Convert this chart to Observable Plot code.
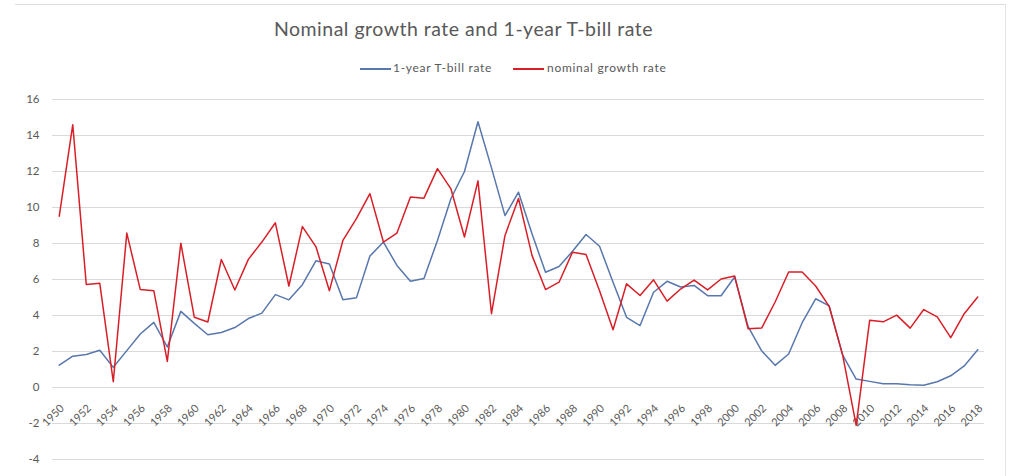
<!DOCTYPE html>
<html>
<head>
<meta charset="utf-8">
<script src="https://cdn.jsdelivr.net/npm/d3@7"></script>
<script src="https://cdn.jsdelivr.net/npm/@observablehq/plot@0.6"></script>
<style>
  html, body { margin: 0; padding: 0; background: #fff; }
  #page { position: relative; width: 1009px; height: 476px; overflow: hidden; font-family: Lato, "Open Sans", sans-serif; color: #595959; }
  #box { position: absolute; left: 15px; top: 4px; width: 990px; height: 500px; border-top: 1px solid #dedede; border-right: 1px solid #e4e4e4; pointer-events: none; }
  #header { position: relative; height: 85px; }
  #title { position: absolute; left: 0; width: 927px; top: 17px; text-align: center; font-size: 19.5px; letter-spacing: 0.5px; line-height: 1.2; white-space: nowrap; }
  .sw { position: absolute; top: 68px; height: 1.6px; width: 31px; }
  .lt { position: absolute; top: 61px; font-size: 12px; letter-spacing: 0.7px; line-height: 1.2; white-space: nowrap; }
  #chart { position: relative; }
</style>
</head>
<body>
<div id="page">
  <div id="box"></div>
  <div id="header">
    <div id="title">Nominal growth rate and 1-year T-bill rate</div>
    <div class="sw" style="left:360px;background:#5877ad"></div>
    <div class="lt" style="left:393px">1-year T-bill rate</div>
    <div class="sw" style="left:513px;background:#d81f28"></div>
    <div class="lt" style="left:547px">nominal growth rate</div>
  </div>
  <div id="chart"></div>
</div>
<script>
// Years on the category axis
const years = [
  1950, 1951, 1952, 1953, 1954, 1955, 1956, 1957, 1958, 1959,
  1960, 1961, 1962, 1963, 1964, 1965, 1966, 1967, 1968, 1969,
  1970, 1971, 1972, 1973, 1974, 1975, 1976, 1977, 1978, 1979,
  1980, 1981, 1982, 1983, 1984, 1985, 1986, 1987, 1988, 1989,
  1990, 1991, 1992, 1993, 1994, 1995, 1996, 1997, 1998, 1999,
  2000, 2001, 2002, 2003, 2004, 2005, 2006, 2007, 2008, 2009,
  2010, 2011, 2012, 2013, 2014, 2015, 2016, 2017, 2018
];

// 1-year T-bill rate (%)
const tbillRate = [
  1.24, 1.74, 1.83, 2.07, 1.12, 2.05, 2.97, 3.62, 2.25, 4.23,
  3.56, 2.93, 3.06, 3.33, 3.83, 4.13, 5.16, 4.87, 5.71, 7.04,
  6.86, 4.88, 4.98, 7.30, 8.08, 6.78, 5.90, 6.05, 8.17, 10.50,
  12.00, 14.76, 12.20, 9.55, 10.85, 8.54, 6.40, 6.72, 7.57, 8.50,
  7.85, 5.85, 3.90, 3.44, 5.29, 5.90, 5.58, 5.67, 5.10, 5.10,
  6.14, 3.38, 2.04, 1.23, 1.86, 3.60, 4.93, 4.53, 1.80, 0.47,
  0.34, 0.21, 0.21, 0.15, 0.12, 0.32, 0.65, 1.20, 2.10
];

// Nominal growth rate (%)
const nominalGrowth = [
  9.52, 14.60, 5.72, 5.79, 0.32, 8.58, 5.44, 5.38, 1.45, 8.02,
  3.90, 3.64, 7.11, 5.42, 7.12, 8.08, 9.15, 5.64, 8.94, 7.83,
  5.38, 8.17, 9.38, 10.77, 8.08, 8.58, 10.58, 10.52, 12.16, 11.03,
  8.36, 11.48, 4.10, 8.45, 10.50, 7.34, 5.44, 5.85, 7.52, 7.39,
  5.38, 3.21, 5.76, 5.11, 5.98, 4.80, 5.47, 5.97, 5.42, 6.03,
  6.20, 3.26, 3.30, 4.75, 6.42, 6.42, 5.64, 4.51, 1.80, -2.10,
  3.74, 3.65, 4.02, 3.30, 4.33, 3.92, 2.77, 4.10, 5.03
];

// Axis ticks
const yTicks = [-4, -2, 0, 2, 4, 6, 8, 10, 12, 14, 16];
const xTickYears = [
  1950, 1952, 1954, 1956, 1958, 1960, 1962, 1964, 1966, 1968,
  1970, 1972, 1974, 1976, 1978, 1980, 1982, 1984, 1986, 1988,
  1990, 1992, 1994, 1996, 1998, 2000, 2002, 2004, 2006, 2008,
  2010, 2012, 2014, 2016, 2018
];

const tbillRows = years.map((year, i) => ({year, value: tbillRate[i]}));
const growthRows = years.map((year, i) => ({year, value: nominalGrowth[i]}));

const labelColor = "#595959";

const chart = Plot.plot({
  width: 1009,
  height: 391,
  marginTop: 14,
  marginBottom: 17,
  marginLeft: 52,
  marginRight: 25,
  style: {fontFamily: "Lato, 'Open Sans', sans-serif", fontSize: "11px", color: labelColor, background: "transparent"},
  x: {domain: [1949.5, 2018.5], axis: null},
  y: {domain: [-4, 16]},
  marks: [
    Plot.ruleY(yTicks, {stroke: "#d9d9d9", strokeWidth: 1}),
    Plot.axisY({ticks: yTicks, tickSize: 0, tickPadding: 13, tickFormat: d => String(d), label: null, fontSize: 11.5, fill: labelColor}),
    Plot.text(xTickYears, {
      x: d => d, y: 0, text: d => String(d),
      rotate: -45, textAnchor: "end", dx: 3, dy: 19,
      fontSize: 11, fill: labelColor
    }),
    Plot.lineY(tbillRows, {x: "year", y: "value", stroke: "#5877ad", strokeWidth: 1.5}),
    Plot.lineY(growthRows, {x: "year", y: "value", stroke: "#d81f28", strokeWidth: 1.5})
  ]
});

document.getElementById("chart").append(chart);
</script>
</body>
</html>
